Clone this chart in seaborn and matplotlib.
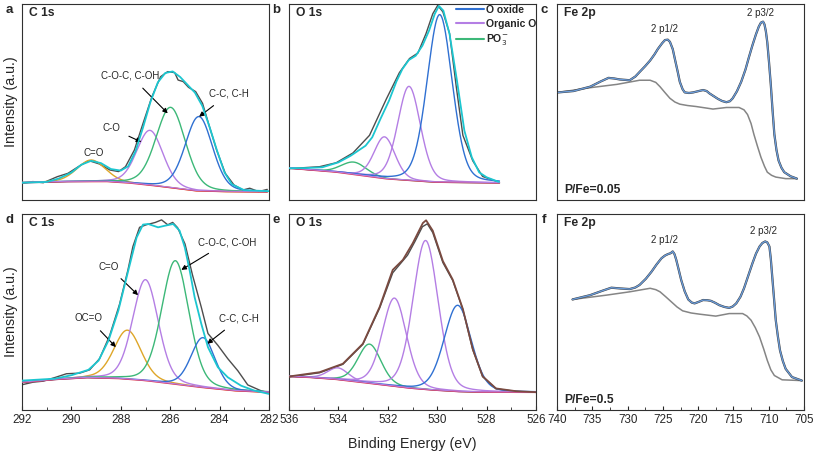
import matplotlib
matplotlib.use('Agg')
import matplotlib.pyplot as plt
import numpy as np
import seaborn as sns
from matplotlib.lines import Line2D
from matplotlib.ticker import MultipleLocator

# ---- panel a: C 1s, P/Fe=0.05 ----
c1s_a_raw_e = [292.0, 291.56, 291.14, 290.57, 290.14, 289.72, 289.3, 288.87, 288.44, 288.09, 287.81,
               287.45, 287.1, 286.74, 286.39, 286.1, 285.82, 285.68, 285.47, 285.26, 284.97, 284.69,
               284.41, 284.12, 283.77, 283.42, 283.06, 282.78, 282.42, 282.07]
c1s_a_raw_i = [0.085, 0.094, 0.088, 0.119, 0.136, 0.170, 0.201, 0.184, 0.153, 0.145, 0.170,
               0.255, 0.391, 0.527, 0.629, 0.655, 0.650, 0.612, 0.604, 0.575, 0.553, 0.493,
               0.374, 0.255, 0.136, 0.077, 0.051, 0.060, 0.043, 0.054]
c1s_a_env_e = [292.0, 291.0, 290.5, 290.0, 289.6, 289.2, 288.8, 288.4, 288.0, 287.7, 287.4, 287.1,
               286.8, 286.5, 286.2, 285.9, 285.6, 285.3, 285.0, 284.7, 284.4, 284.1, 283.8, 283.5,
               283.0, 282.0]
c1s_a_env_i = [0.088, 0.092, 0.110, 0.140, 0.180, 0.200, 0.188, 0.158, 0.150, 0.172, 0.250, 0.370,
               0.500, 0.600, 0.648, 0.656, 0.628, 0.588, 0.548, 0.480, 0.370, 0.250, 0.140, 0.080,
               0.050, 0.045]
c1s_a_bg_e = [292.0, 290.0, 288.5, 287.5, 286.3, 285.5, 284.9, 283.5, 282.0]
c1s_a_bg_i = [0.088, 0.094, 0.094, 0.085, 0.068, 0.055, 0.046, 0.042, 0.041]
c1s_a_centers = [289.2, 286.82, 285.98, 284.84]
c1s_a_heights = [0.11, 0.28, 0.41, 0.38]
c1s_a_fwhm = [1.35, 1.25, 1.4, 1.3]

# ---- panel d: C 1s, P/Fe=0.5 ----
c1s_d_raw_e = [291.96, 291.55, 291.15, 290.61, 290.2, 289.67, 289.26, 288.86, 288.45, 288.05, 287.71,
               287.51, 287.24, 286.97, 286.6, 286.35, 286.1, 285.9, 285.7, 285.4, 285.1, 284.74,
               284.47, 284.07, 283.67, 283.26, 282.86, 282.32, 282.0]
c1s_d_raw_i = [0.130, 0.142, 0.147, 0.168, 0.185, 0.188, 0.205, 0.262, 0.380, 0.540, 0.715,
               0.834, 0.932, 0.945, 0.957, 0.970, 0.945, 0.957, 0.930, 0.847, 0.690, 0.524,
               0.390, 0.330, 0.262, 0.200, 0.128, 0.098, 0.088]
c1s_d_env_e = [292.0, 290.66, 289.98, 289.31, 288.9, 288.5, 288.1, 287.7, 287.36, 287.1, 286.89,
               286.49, 286.22, 285.88, 285.62, 285.41, 285.21, 285.01, 284.74, 284.47, 284.07,
               283.67, 283.13, 282.59, 282.0]
c1s_d_env_i = [0.150, 0.160, 0.178, 0.205, 0.252, 0.354, 0.507, 0.710, 0.880, 0.946, 0.949,
               0.932, 0.940, 0.949, 0.915, 0.830, 0.711, 0.575, 0.439, 0.320, 0.218,
               0.167, 0.124, 0.099, 0.082]
c1s_d_bg_e = [292.0, 290.5, 289.3, 288.0, 287.0, 286.0, 284.6, 283.3, 282.0]
c1s_d_bg_i = [0.140, 0.157, 0.165, 0.160, 0.150, 0.135, 0.113, 0.097, 0.090]
c1s_d_centers = [287.73, 287.0, 285.79, 284.67]
c1s_d_heights = [0.25, 0.515, 0.63, 0.255]
c1s_d_fwhm = [1.3, 1.22, 1.3, 1.15]

# ---- panel b: O 1s, P/Fe=0.05 ----
o1s_b_raw_e = [536.0, 534.76, 534.09, 533.41, 532.74, 532.06, 531.53, 531.12, 530.78, 530.45, 530.18,
               529.98, 529.77, 529.5, 529.23, 528.96, 528.56, 528.16, 527.48]
o1s_b_raw_i = [0.160, 0.170, 0.190, 0.240, 0.330, 0.515, 0.650, 0.722, 0.750, 0.850, 0.950,
               0.993, 0.960, 0.850, 0.580, 0.330, 0.200, 0.120, 0.090]
o1s_b_env_e = [536.0, 535.3, 534.65, 534.0, 533.5, 533.3, 532.9, 532.63, 532.3, 531.95, 531.65,
               531.41, 531.15, 530.87, 530.6, 530.33, 530.1, 529.93, 529.75, 529.5, 529.2,
               528.9, 528.6, 528.3, 528.0, 527.5]
o1s_b_env_i = [0.162, 0.163, 0.167, 0.192, 0.226, 0.243, 0.277, 0.320, 0.413, 0.507, 0.605,
               0.668, 0.714, 0.736, 0.787, 0.864, 0.949, 0.990, 0.966, 0.847, 0.609,
               0.354, 0.218, 0.141, 0.116, 0.092]
o1s_b_bg_e = [536.0, 534.0, 532.0, 530.0, 527.5]
o1s_b_bg_i = [0.162, 0.141, 0.107, 0.090, 0.087]
o1s_b_centers = [533.37, 532.13, 531.14, 529.9]
o1s_b_heights = [0.063, 0.213, 0.48, 0.856]
o1s_b_fwhm = [1.2, 1.0, 1.08, 1.2]

# ---- panel e: O 1s, P/Fe=0.5 ----
o1s_e_raw_e = [536.0, 534.76, 533.82, 533.01, 532.33, 531.8, 531.5, 531.2, 530.9, 530.6, 530.4,
               530.18, 529.77, 529.37, 528.96, 528.56, 528.16, 527.62, 526.81, 526.0]
o1s_e_raw_i = [0.168, 0.190, 0.233, 0.335, 0.520, 0.700, 0.745, 0.790, 0.860, 0.935, 0.950,
               0.905, 0.752, 0.660, 0.512, 0.308, 0.170, 0.108, 0.095, 0.090]
o1s_e_env_e = [536.0, 534.76, 533.82, 533.01, 532.33, 531.8, 531.39, 530.99, 530.58, 530.45,
               530.18, 529.77, 529.37, 528.96, 528.56, 528.16, 527.62, 526.81, 526.0]
o1s_e_env_i = [0.171, 0.193, 0.236, 0.338, 0.526, 0.715, 0.766, 0.851, 0.954, 0.968,
               0.915, 0.760, 0.665, 0.515, 0.310, 0.172, 0.110, 0.096, 0.091]
o1s_e_bg_e = [536.0, 535.0, 534.0, 533.0, 532.0, 531.0, 530.0, 529.0, 528.0, 526.0]
o1s_e_bg_i = [0.171, 0.165, 0.155, 0.140, 0.125, 0.110, 0.100, 0.093, 0.090, 0.090]
o1s_e_centers = [534.02, 532.74, 531.73, 530.47, 529.17]
o1s_e_heights = [0.06, 0.20, 0.45, 0.76, 0.44]
o1s_e_fwhm = [1.0, 1.1, 1.15, 1.2, 1.3]

# ---- panel c: Fe 2p, P/Fe=0.05 ----
fe_c_e = [739.8, 737.65, 735.3, 733.8, 732.7, 731.9, 731.1, 729.7, 728.9, 728.3, 727.5, 726.8, 726.2,
          725.7, 725.1, 724.7, 724.3, 724.0, 723.6, 723.3, 722.9, 722.6, 722.2, 721.9, 721.3, 720.7,
          719.9, 719.3, 718.8, 718.4, 717.8, 717.2, 716.6, 716.0, 715.5, 715.1, 714.5, 713.9, 713.3,
          712.8, 712.3, 711.8, 711.4, 711.1, 710.8, 710.6, 710.4, 710.2, 709.95, 709.7, 709.45,
          709.2, 708.9, 708.6, 708.2, 707.8, 706.9, 706.0]
fe_c_i = [0.549, 0.556, 0.578, 0.605, 0.623, 0.620, 0.615, 0.611, 0.630, 0.653, 0.683, 0.712, 0.742,
          0.771, 0.800, 0.816, 0.818, 0.807, 0.770, 0.720, 0.655, 0.603, 0.565, 0.549, 0.546, 0.549,
          0.556, 0.561, 0.556, 0.544, 0.530, 0.516, 0.505, 0.499, 0.504, 0.519, 0.555, 0.603, 0.665,
          0.729, 0.790, 0.846, 0.885, 0.905, 0.910, 0.896, 0.860, 0.804, 0.700, 0.586, 0.455,
          0.335, 0.255, 0.201, 0.165, 0.142, 0.121, 0.109]
fe_c_bg_e = [739.8, 735.3, 731.5, 728.3, 726.8, 726.0, 725.4, 724.7, 724.0, 723.3, 722.6, 721.5,
             720.3, 717.9, 716.0, 714.2, 713.5, 713.0, 712.5, 712.1, 711.6, 711.1, 710.6, 710.2,
             709.6, 709.0, 707.6, 706.0]
fe_c_bg_i = [0.549, 0.573, 0.590, 0.611, 0.611, 0.600, 0.578, 0.548, 0.519, 0.500, 0.489, 0.482,
             0.477, 0.464, 0.472, 0.472, 0.460, 0.436, 0.390, 0.335, 0.275, 0.218, 0.172, 0.142,
             0.126, 0.117, 0.109, 0.109]

# ---- panel f: Fe 2p, P/Fe=0.5 ----
fe_f_e = [737.8, 735.3, 733.6, 732.3, 731.0, 729.7, 728.9, 728.3, 727.4, 726.6, 725.9, 725.2, 724.7,
          724.3, 723.9, 723.6, 723.35, 723.1, 722.75, 722.4, 721.9, 721.4, 720.9, 720.5, 719.9, 719.3,
          718.7, 718.2, 717.6, 717.0, 716.3, 715.6, 715.1, 714.6, 714.0, 713.5, 712.9, 712.3, 711.8,
          711.3, 710.9, 710.5, 710.2, 709.9, 709.7, 709.5, 709.25, 709.0, 708.7, 708.4, 708.0,
          707.6, 706.7, 705.3]
fe_f_i = [0.564, 0.586, 0.608, 0.624, 0.620, 0.617, 0.625, 0.638, 0.670, 0.706, 0.742, 0.774, 0.788,
          0.795, 0.800, 0.809, 0.795, 0.766, 0.715, 0.663, 0.605, 0.564, 0.548, 0.544, 0.552, 0.561,
          0.560, 0.557, 0.547, 0.535, 0.526, 0.521, 0.528, 0.544, 0.578, 0.621, 0.685, 0.749, 0.798,
          0.834, 0.852, 0.860, 0.855, 0.834, 0.770, 0.680, 0.570, 0.458, 0.375, 0.304, 0.250,
          0.210, 0.168, 0.150]
fe_f_bg_e = [737.8, 733.0, 729.7, 726.8, 726.0, 725.4, 724.6, 723.8, 723.0, 722.2, 721.0, 719.8,
             717.5, 715.6, 713.7, 713.1, 712.5, 711.9, 711.3, 710.7, 710.2, 709.7, 709.2, 708.1,
             705.3]
fe_f_bg_i = [0.564, 0.586, 0.603, 0.621, 0.614, 0.603, 0.578, 0.552, 0.526, 0.506, 0.495, 0.489,
             0.479, 0.492, 0.492, 0.480, 0.458, 0.420, 0.373, 0.310, 0.253, 0.205, 0.176, 0.154,
             0.150]

BLUE = '#2f70d2'
PURPLE = '#b47ee4'
GREEN = '#3cb878'
ORANGE = '#dea628'
CYAN = '#1cc6d0'
BROWN = '#7a4a40'
RAW = '#4d4d4d'

sns.set_style('white')
plt.rcParams['font.family'] = ['Liberation Sans', 'DejaVu Sans']


def peak(e, c, h, w, eta=0.2):
    # Gaussian-Lorentzian mix, as used for XPS fitting
    s = w / 2.3548
    g = np.exp(-0.5 * ((e - c) / s) ** 2)
    lor = 1.0 / (1.0 + ((e - c) / (w / 2)) ** 2)
    return h * ((1 - eta) * g + eta * lor)


def line(ax, x, y, color, lw=1.0, z=2):
    sns.lineplot(x=x, y=y, ax=ax, color=color, lw=lw, estimator=None, sort=False, zorder=z)


def draw_fit(ax, raw_e, raw_i, env_e, env_i, bg_e, bg_i, centers, heights, fwhm, colors, env_color):
    e = np.linspace(min(raw_e), max(raw_e), 500)
    base = np.interp(e, bg_e[::-1], bg_i[::-1])
    line(ax, raw_e, raw_i, RAW, 1.0, 2)
    for c, h, w, col in zip(centers, heights, fwhm, colors):
        line(ax, e, base + peak(e, c, h, w), col, 1.0, 3)
    line(ax, e, base, '#e03040', 1.0, 3)
    line(ax, e, base + 0.002, PURPLE, 0.8, 3)
    line(ax, env_e, env_i, env_color, 1.3, 4)


def annotate(ax, text, xy, xytext):
    ax.annotate(text, xy=xytext, xytext=xy, fontsize=7, ha='center', va='center',
                arrowprops=dict(arrowstyle='-|>', color='black', lw=0.8, mutation_scale=7,
                                shrinkA=4, shrinkB=0))


fig = plt.figure(figsize=(8.13, 4.51), dpi=100)
W, H = 813.0, 451.0
lefts = [22, 289, 557]
tops = [4, 214]
aw, ah = 247, 196
axes = {}
letters = 'abcdef'
for r, top in enumerate(tops):
    for c, left in enumerate(lefts):
        ax = fig.add_axes([left / W, 1 - (top + ah) / H, aw / W, ah / H])
        k = letters[r * 3 + c]
        axes[k] = ax
        fig.text((left - 13) / W, 1 - (top + 6) / H, k, fontsize=9.5, fontweight='bold',
                 ha='center', va='center')

draw_fit(axes['a'], c1s_a_raw_e, c1s_a_raw_i, c1s_a_env_e, c1s_a_env_i, c1s_a_bg_e, c1s_a_bg_i,
         c1s_a_centers, c1s_a_heights, c1s_a_fwhm, [ORANGE, PURPLE, GREEN, BLUE], CYAN)
draw_fit(axes['d'], c1s_d_raw_e, c1s_d_raw_i, c1s_d_env_e, c1s_d_env_i, c1s_d_bg_e, c1s_d_bg_i,
         c1s_d_centers, c1s_d_heights, c1s_d_fwhm, [ORANGE, PURPLE, GREEN, BLUE], CYAN)
draw_fit(axes['b'], o1s_b_raw_e, o1s_b_raw_i, o1s_b_env_e, o1s_b_env_i, o1s_b_bg_e, o1s_b_bg_i,
         o1s_b_centers, o1s_b_heights, o1s_b_fwhm, [GREEN, PURPLE, PURPLE, BLUE], CYAN)
draw_fit(axes['e'], o1s_e_raw_e, o1s_e_raw_i, o1s_e_env_e, o1s_e_env_i, o1s_e_bg_e, o1s_e_bg_i,
         o1s_e_centers, o1s_e_heights, o1s_e_fwhm, [PURPLE, GREEN, PURPLE, PURPLE, BLUE], BROWN)

ax = axes['a']
ax.text(289.1, 0.238, 'C=O', fontsize=7, ha='center', va='center')
annotate(ax, 'C-O', (288.37, 0.366), (287.17, 0.296))
annotate(ax, 'C-O-C, C-OH', (287.6, 0.633), (286.1, 0.442))
annotate(ax, 'C-C, C-H', (283.63, 0.541), (284.83, 0.425))

ax = axes['d']
annotate(ax, 'OC=O', (289.3, 0.467), (288.2, 0.321))
annotate(ax, 'C=O', (288.5, 0.732), (287.3, 0.586))
annotate(ax, 'C-O-C, C-OH', (283.7, 0.856), (285.55, 0.715))
annotate(ax, 'C-C, C-H', (283.2, 0.467), (284.5, 0.338))

handles = [Line2D([], [], color=BLUE, lw=1.5), Line2D([], [], color=PURPLE, lw=1.5),
           Line2D([], [], color=GREEN, lw=1.5)]
axes['b'].legend(handles, ['O oxide', 'Organic O', 'PO$_3^{-}$'], loc='upper right',
                 bbox_to_anchor=(1.005, 1.0), frameon=False, handlelength=2.7,
                 handletextpad=0.2, labelspacing=0.35, borderaxespad=0, borderpad=0.1,
                 prop={'weight': 'bold', 'size': 7.5})

for k, fe_e, fe_i, bg_e, bg_i, ratio, p1, p3 in [
        ('c', fe_c_e, fe_c_i, fe_c_bg_e, fe_c_bg_i, 'P/Fe=0.05', (724.7, 0.875), (711.1, 0.955)),
        ('f', fe_f_e, fe_f_i, fe_f_bg_e, fe_f_bg_i, 'P/Fe=0.5', (724.7, 0.865), (710.8, 0.915))]:
    ax = axes[k]
    line(ax, bg_e, bg_i, '#858585', 1.1, 2)
    line(ax, fe_e, fe_i, '#3a3a3a', 1.6, 2)
    line(ax, fe_e, fe_i, '#6a9bd8', 1.0, 3)
    ax.text(p1[0], p1[1], '2 p1/2', fontsize=7, ha='center', va='center')
    ax.text(p3[0], p3[1], '2 p3/2', fontsize=7, ha='center', va='center')
    ax.text(0.03, 0.05, ratio, transform=ax.transAxes, fontsize=8.7, fontweight='bold',
            ha='left', va='center')

titles = {'a': 'C 1s', 'b': 'O 1s', 'c': 'Fe 2p', 'd': 'C 1s', 'e': 'O 1s', 'f': 'Fe 2p'}
xlims = {'a': (292, 282), 'd': (292, 282), 'b': (536, 526), 'e': (536, 526),
         'c': (740, 705), 'f': (740, 705)}
for k, ax in axes.items():
    ax.set_xlim(*xlims[k])
    ax.set_ylim(0, 1)
    ax.set_yticks([])
    ax.set_ylabel('')
    ax.set_xlabel('')
    ax.text(0.03, 0.955, titles[k], transform=ax.transAxes, fontsize=8.7, fontweight='bold',
            ha='left', va='center')
    for s in ax.spines.values():
        s.set_color('#303030')
        s.set_linewidth(0.8)
    if k in 'abc':
        ax.set_xticks([])
    else:
        step = 5 if k == 'f' else 2
        ax.xaxis.set_major_locator(MultipleLocator(step))
        ax.xaxis.set_minor_locator(MultipleLocator(step / 2))
        ax.tick_params(axis='x', which='major', direction='in', length=3, width=0.8,
                       labelsize=8.4, pad=3, bottom=True)
        ax.tick_params(axis='x', which='minor', direction='in', length=2, width=0.6, bottom=True)

for k in 'ad':
    axes[k].set_ylabel('Intensity (a.u.)', fontsize=10.3, labelpad=3)
axes['e'].set_xlabel('Binding Energy (eV)', fontsize=10.3, labelpad=8)

fig.savefig('out.png', dpi=100)
